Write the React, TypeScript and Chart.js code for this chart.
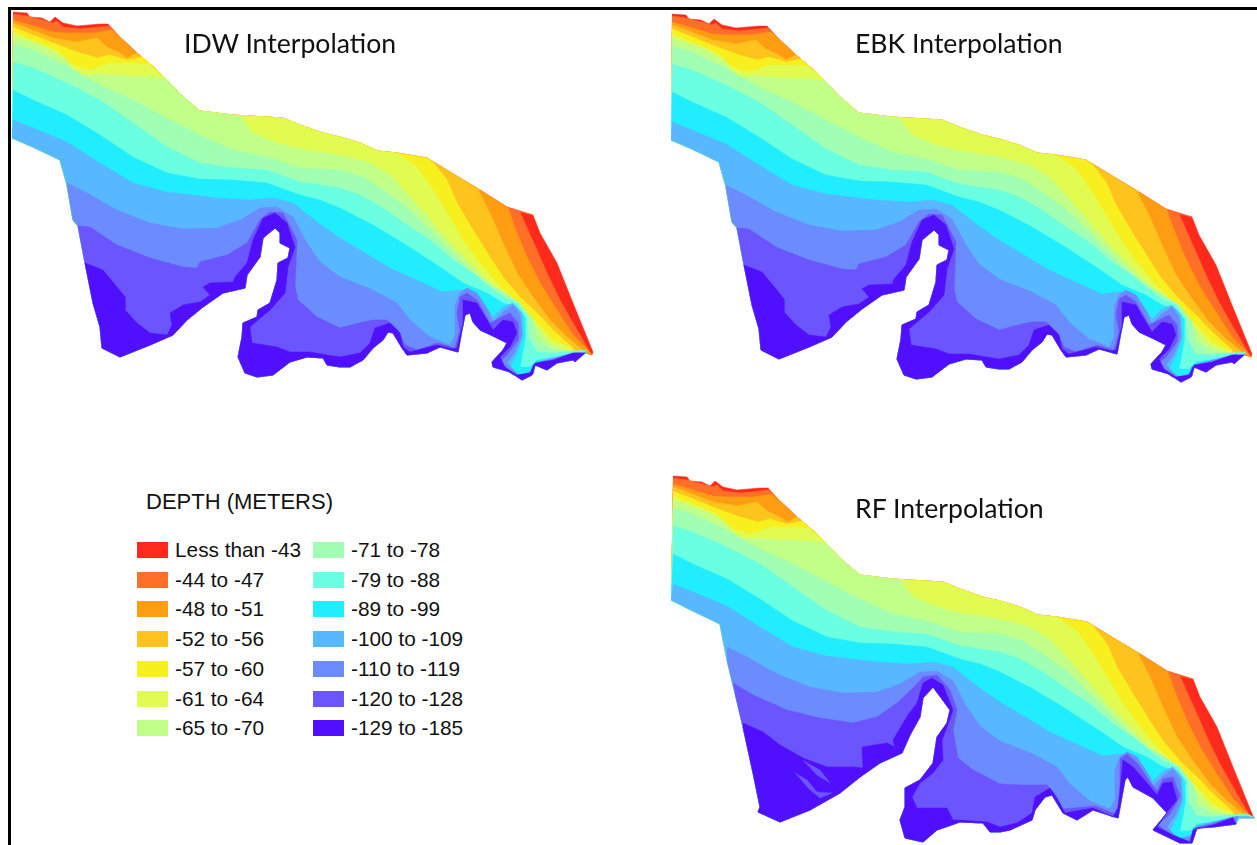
import React, { useEffect, useRef } from "react";
import { Chart, registerables } from "chart.js";

Chart.register(...registerables);

type P = [number, number];

const legendTitle = "DEPTH (METERS)";
const bandLabels = [
  "Less than -43", "-44 to -47", "-48 to -51", "-52 to -56", "-57 to -60", "-61 to -64", "-65 to -70",
  "-71 to -78", "-79 to -88", "-89 to -99", "-100 to -109", "-110 to -119", "-120 to -128", "-129 to -185",
];
const bandColors = [
  "#ff2a1c", "#ff6f28", "#ff9d12", "#ffc31e", "#f8f01e", "#e2fb50", "#c2ff88",
  "#a0ffb2", "#6affe0", "#20eeff", "#58b8ff", "#6a8cff", "#6a55ff", "#5010ff",
];

const shoreNorth: P[] = [
  [13, 12], [27, 13], [30, 17], [42, 18], [50, 22], [55, 17], [63, 23], [77, 26], [100, 24], [108, 24], [120, 37],
  [137, 53], [157, 70], [166, 79], [180, 94], [200, 111], [233, 115], [283, 118], [300, 125], [323, 133], [340, 137], [360, 143],
  [378, 151], [397, 153], [427, 158], [450, 172], [480, 190], [507, 207], [533, 215], [540, 233],
  [557, 263], [573, 303], [593, 352],
];
const coastIdw: P[] = [
  [592, 355], [583, 352], [575, 362], [573, 360], [557, 363], [547, 370], [535, 365], [533, 373], [532, 375], [522, 380], [510, 372], [493, 367], [492, 362], [503, 350], [507, 343], [495, 337], [480, 330],
  [473, 322], [470, 313], [465, 315], [462, 330], [458, 352], [440, 347], [427, 353], [407, 355], [402, 348], [393, 333],
  [388, 332], [383, 340], [373, 348], [363, 360], [350, 367], [340, 367], [327, 365], [323, 358], [307, 357], [290, 362],
  [273, 375], [257, 377], [245, 373], [238, 357], [242, 337], [243, 323], [257, 317], [258, 310], [270, 303], [277, 280],
  [278, 263], [288, 258], [290, 248], [280, 243], [280, 233], [275, 228], [263, 238], [260, 257], [247, 275], [245, 288],
  [223, 293], [203, 307], [187, 320], [173, 335], [150, 345], [120, 357], [102, 348], [100, 327], [93, 303], [85, 263],
  [78, 226], [73, 220], [67, 185], [60, 160], [33, 147], [12, 138],
];
const coastRf: P[] = [
  [595, 354], [573, 354], [576, 360], [553, 363], [537, 364], [532, 379], [520, 379], [493, 366], [507, 349], [493, 334], [473, 323],
  [468, 313], [465, 316], [458, 354], [433, 346], [417, 356], [403, 349], [392, 331], [385, 333], [375, 346], [372, 356], [350, 366],
  [340, 368], [330, 368], [323, 359], [300, 358], [277, 366], [263, 378], [245, 374], [240, 356], [245, 343], [245, 324], [260, 316],
  [273, 299], [277, 273], [287, 259], [290, 246], [273, 223], [263, 234], [260, 253], [250, 271], [242, 289], [220, 299], [200, 313],
  [180, 329], [150, 346], [120, 358], [98, 348], [100, 343], [93, 309], [83, 263], [75, 229], [67, 196], [60, 160], [33, 147], [11, 136],
];

const isoM44: P[][] = [
  [[13, 14], [27, 16], [43, 20], [53, 23], [57, 21], [63, 27], [80, 29], [100, 27], [109, 26]],
  [[520, 212], [528, 230], [537, 250], [547, 273], [560, 300], [573, 323], [590, 352]],
];
const isoM48: P[][] = [
  [[13, 20], [30, 25], [53, 32], [67, 33], [93, 33], [112, 30]],
  [[508, 208], [517, 233], [527, 257], [540, 283], [557, 310], [573, 335], [588, 350]],
];
const isoM52: P[][] = [
  [[13, 23], [27, 28], [53, 38], [77, 42], [97, 38], [107, 47], [120, 53], [127, 58], [137, 53]],
  [[478, 190], [490, 213], [503, 243], [517, 273], [533, 297], [550, 320], [567, 337], [583, 350]],
];
const isoM57: P[][] = [
  [[13, 27], [33, 35], [53, 43], [77, 52], [98, 58], [110, 55], [127, 60], [142, 57]],
  [[433, 162], [447, 180], [457, 203], [473, 230], [490, 257], [503, 277], [520, 297], [537, 313], [553, 330], [573, 348]],
];
const isoM61: P[][] = [
  [[13, 32], [37, 42], [57, 50], [72, 65], [90, 70], [97, 68], [110, 63], [137, 63], [150, 65]],
  [[397, 153], [417, 167], [433, 190], [447, 213], [463, 240], [480, 263], [497, 283], [517, 303], [537, 323], [553, 340], [573, 350]],
];
const isoM65: P[][] = [
  [[13, 36], [43, 46], [67, 60], [77, 75], [97, 74], [127, 76], [153, 77], [166, 79]],
  [[240, 116], [253, 133], [277, 143], [300, 149], [320, 152], [340, 155], [370, 163], [390, 175], [410, 197], [430, 220], [450, 243], [470, 263], [487, 280], [507, 297], [523, 310], [537, 327], [550, 343], [567, 350], [583, 352]],
];
const isoM71: P[][] = [
  [[13, 44], [33, 50], [67, 66], [100, 85], [133, 100], [167, 118], [200, 135], [233, 150], [267, 157], [300, 168], [340, 170], [363, 177], [383, 190], [407, 207], [430, 230], [450, 250], [470, 270], [487, 283], [503, 292], [520, 303], [533, 320], [537, 340], [553, 350], [573, 352]],
];
const isoM79: P[][] = [
  [[13, 62], [33, 68], [67, 83], [100, 100], [133, 123], [167, 147], [200, 163], [233, 168], [267, 170], [300, 182], [340, 188], [360, 195], [383, 208], [407, 225], [430, 240], [453, 260], [473, 273], [490, 287], [503, 297], [517, 303], [527, 317], [528, 337], [537, 352], [553, 353], [573, 351], [587, 350]],
];
const isoM89: P[][] = [
  [[13, 90], [33, 100], [67, 115], [100, 135], [133, 157], [167, 173], [200, 179], [233, 180], [267, 183], [300, 195], [320, 200], [340, 208], [373, 225], [403, 243], [440, 267], [463, 283], [487, 293], [503, 303], [517, 307], [525, 317], [525, 340], [522, 357], [520, 367], [530, 367], [537, 360], [557, 357], [580, 353]],
];
const isoM100: P[][] = [
  [[13, 120], [33, 128], [67, 142], [100, 163], [133, 183], [167, 192], [217, 198], [250, 200], [273, 198], [293, 203], [317, 222], [340, 238], [360, 250], [390, 268], [423, 283], [443, 292], [458, 290], [470, 290], [483, 303], [493, 317], [503, 307], [513, 303], [522, 313], [523, 337], [517, 353], [510, 367], [520, 375], [533, 370], [537, 362], [557, 357], [573, 353], [587, 352]],
];
const isoM110: P[][] = [
  [[67, 183], [87, 193], [117, 210], [150, 223], [183, 229], [217, 228], [240, 220], [260, 208], [277, 207], [293, 217], [307, 243], [320, 262], [340, 277], [373, 290], [397, 303], [410, 320], [430, 337], [450, 345], [455, 335], [455, 305], [460, 293], [467, 288], [477, 293], [488, 310], [493, 322], [503, 312], [513, 305], [520, 315], [522, 335], [515, 352], [507, 363], [518, 375], [532, 372], [537, 363], [555, 358], [578, 352]],
];
const isoM120: P[][] = [
  [[78, 226], [90, 227], [117, 245], [150, 258], [183, 267], [197, 268], [200, 262], [227, 255], [247, 243], [260, 220], [270, 212], [283, 213], [297, 240], [295, 287], [298, 300], [317, 317], [340, 328], [363, 322], [373, 320], [387, 320], [398, 330], [405, 345], [417, 350], [438, 343], [455, 348], [460, 330], [457, 313], [460, 297], [467, 293], [477, 300], [490, 323], [500, 318], [510, 313], [518, 323], [518, 340], [507, 355], [497, 363], [513, 375], [530, 375], [533, 365], [560, 360], [577, 355]],
];
const isoM129: P[][] = [
  [[85, 263], [103, 270], [117, 287], [125, 297], [125, 310], [137, 323], [150, 333], [167, 335], [172, 325], [170, 313], [183, 305], [200, 302], [210, 295], [203, 287], [210, 283], [233, 282], [235, 277], [247, 263], [253, 240], [263, 218], [275, 213], [287, 223], [295, 247], [288, 267], [285, 293], [270, 310], [258, 320], [250, 327], [252, 343], [277, 347], [290, 352], [310, 352], [327, 355], [340, 357], [360, 353], [370, 343], [375, 328], [390, 323], [400, 333], [403, 347], [410, 352], [437, 345], [453, 349], [457, 348], [462, 327], [463, 300], [477, 303], [487, 320], [493, 330], [503, 320], [513, 322], [517, 333], [510, 347], [500, 357], [505, 367], [517, 375], [530, 373], [535, 363], [553, 360], [573, 353], [585, 353]],
];
const rfIsoM120: P[][] = [
  [[73, 219], [93, 231], [127, 246], [160, 254], [193, 259], [217, 253], [237, 239], [253, 224], [263, 213], [277, 211], [290, 226], [297, 246], [293, 266], [298, 294], [313, 306], [340, 320], [360, 321], [387, 321], [395, 330], [403, 345], [435, 342], [455, 350], [460, 335], [460, 295], [467, 290], [478, 300], [490, 318], [497, 327], [503, 315], [513, 313], [520, 332], [510, 350], [498, 361], [513, 372], [530, 378], [534, 364], [553, 360], [573, 353]],
];
const rfIsoM129: P[][] = [
  [[83, 259], [103, 268], [120, 281], [143, 294], [167, 303], [193, 303], [203, 304], [202, 283], [227, 279], [235, 283], [233, 276], [248, 251], [257, 239], [263, 219], [272, 214], [283, 221], [293, 246], [287, 263], [282, 276], [283, 296], [273, 309], [260, 319], [252, 333], [257, 344], [287, 344], [293, 356], [300, 356], [327, 358], [340, 363], [357, 359], [372, 349], [375, 333], [390, 324], [398, 336], [405, 349], [433, 344], [453, 353], [458, 344], [463, 296], [473, 303], [487, 319], [497, 331], [503, 319], [512, 318], [517, 336], [507, 348], [497, 363], [513, 371], [530, 378], [533, 366], [553, 361], [573, 354]],
];
const rfPockets: P[][] = [
  [[135, 309], [147, 316], [157, 328], [172, 329], [160, 334], [148, 324]],
  [[143, 296], [157, 311], [170, 319], [160, 306]],
];

const sharedBoundaries: P[][][] = [
  isoM44, isoM48, isoM52, isoM57, isoM61, isoM65, isoM71, isoM79, isoM89, isoM100, isoM110,
];

function nearestIndex(shape: P[], p: P): number {
  if (p[0] <= 13) return shape.length - 1;
  let best = 0;
  let bestD = Infinity;
  shape.forEach((q, i) => {
    const d = (q[0] - p[0]) ** 2 + (q[1] - p[1]) ** 2;
    if (d < bestD) { bestD = d; best = i; }
  });
  return best;
}

function ring(shape: P[], parts: P[][]): P[] {
  const out: P[] = [];
  parts.forEach((seg, k) => {
    out.push(...seg);
    const next = parts[(k + 1) % parts.length];
    const from = nearestIndex(shape, seg[seg.length - 1]);
    const to = nearestIndex(shape, next[0]);
    let i = from;
    while (i !== to) {
      i = (i + 1) % shape.length;
      out.push(shape[i]);
    }
  });
  return out;
}

function toXY(points: P[]) {
  return points.map(([x, y]) => ({ x, y }));
}

const panels = [
  { title: "IDW Interpolation", left: 0, top: 0, titleX: 184, titleY: 43, coast: coastIdw, deep: [isoM120, isoM129], pockets: [] as P[][] },
  { title: "EBK Interpolation", left: 659, top: 2, titleX: 855, titleY: 43, coast: coastIdw, deep: [isoM120, isoM129], pockets: [] as P[][] },
  { title: "RF Interpolation", left: 660, top: 464, titleX: 855, titleY: 508, coast: coastRf, deep: [rfIsoM120, rfIsoM129], pockets: rfPockets },
];

function MapPanel({ left, top, coast, deep, pockets }: { left: number; top: number; coast: P[]; deep: P[][][]; pockets: P[][] }) {
  const ref = useRef<HTMLCanvasElement | null>(null);
  useEffect(() => {
    if (!ref.current) return;
    const shape = [...shoreNorth, ...coast];
    const rings = [shape, ...[...sharedBoundaries, ...deep].map((b) => ring(shape, b))];
    const style = (color: string) => ({
      showLine: true,
      fill: "shape",
      backgroundColor: color,
      borderColor: color,
      borderWidth: 0.5,
      pointRadius: 0,
      tension: 0,
    });
    const chart = new Chart(ref.current, {
      type: "scatter",
      data: {
        datasets: [
          ...rings.map((points, i) => ({
            label: bandLabels[i],
            data: toXY(points),
            order: rings.length - i + 1,
            ...style(bandColors[i]),
          })),
          ...pockets.map((points) => ({
            label: bandLabels[12],
            data: toXY(points),
            order: 0,
            ...style(bandColors[12]),
          })),
        ],
      },
      options: {
        animation: false,
        responsive: false,
        layout: { padding: 0 },
        events: [],
        plugins: { legend: { display: false }, tooltip: { enabled: false } },
        scales: {
          x: { type: "linear", min: 0, max: 600, display: false },
          y: { type: "linear", min: 0, max: 390, reverse: true, display: false },
        },
      },
    });
    return () => chart.destroy();
  }, []);
  return <canvas ref={ref} width={600} height={390} style={{ position: "absolute", left, top, width: 600, height: 390 }} />;
}

const legendFont = '"Liberation Sans", Arial, sans-serif';

export default function App() {
  return (
    <div style={{ position: "fixed", left: 0, top: 0, width: 1257, height: 845, background: "#fff", overflow: "hidden" }}>
      <div style={{ position: "absolute", left: 8, top: 7, width: 1249, height: 3, background: "#000" }} />
      <div style={{ position: "absolute", left: 8, top: 7, width: 3, height: 838, background: "#000" }} />
      {panels.map((p) => (
        <MapPanel key={p.title} left={p.left} top={p.top} coast={p.coast} deep={p.deep} pockets={p.pockets} />
      ))}
      {panels.map((p) => (
        <div key={p.title} style={{ position: "absolute", left: p.titleX, top: p.titleY - 20, height: 40, lineHeight: "40px", fontFamily: "Lato, sans-serif", fontSize: 26.6, color: "#111", whiteSpace: "nowrap" }}>
          {p.title}
        </div>
      ))}
      <div style={{ position: "absolute", left: 146, top: 490, height: 24, lineHeight: "24px", fontFamily: legendFont, fontSize: 22, color: "#111", whiteSpace: "nowrap" }}>
        {legendTitle}
      </div>
      {bandLabels.map((label, i) => {
        const col = i < 7 ? 0 : 1;
        const row = i % 7;
        const y = 542 + row * 29.7;
        const sx = col === 0 ? 137 : 313;
        return (
          <React.Fragment key={label}>
            <div style={{ position: "absolute", left: sx, top: y, width: 31, height: 16, background: bandColors[i] }} />
            <div style={{ position: "absolute", left: sx + 38, top: y - 4, height: 24, lineHeight: "24px", fontFamily: legendFont, fontSize: 20.8, color: "#111", whiteSpace: "nowrap" }}>
              {label}
            </div>
          </React.Fragment>
        );
      })}
    </div>
  );
}
